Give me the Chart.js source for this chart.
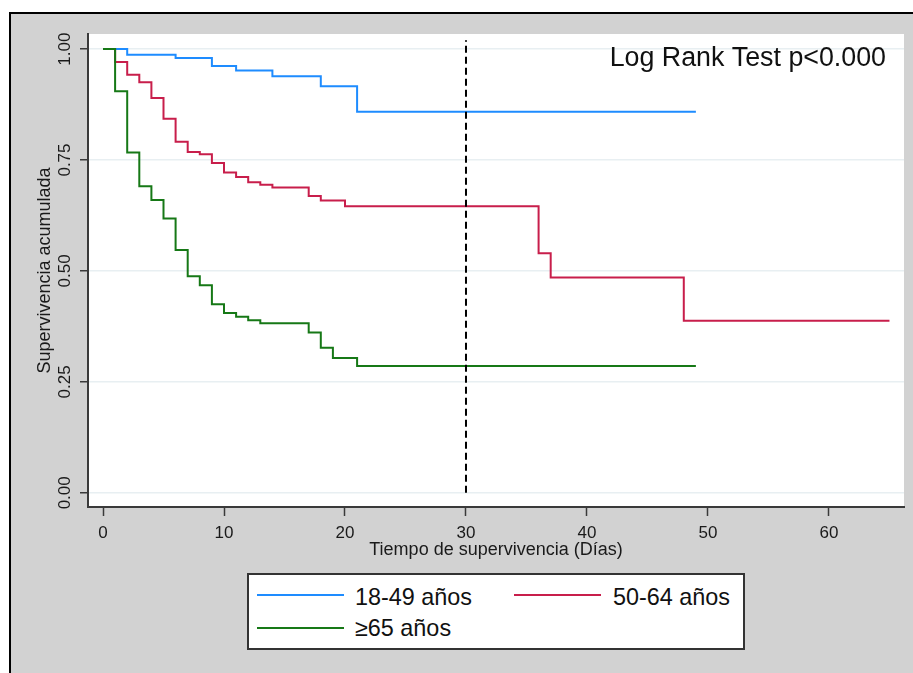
<!DOCTYPE html>
<html><head><meta charset="utf-8">
<script src="https://cdn.jsdelivr.net/npm/chart.js@4.4.1/dist/chart.umd.min.js"></script>
<style>
html,body{margin:0;padding:0;background:#fff;}
#wrap{position:relative;width:913px;height:673px;overflow:hidden;}
#c{position:absolute;left:0;top:0;}
#leyenda{position:absolute;left:247px;top:573px;width:494px;height:73px;border:2px solid #333;background:#fff;font-family:"Liberation Sans",Arial,sans-serif;font-size:23.4px;color:#111;}
.item-line{position:absolute;height:2px;width:87px;}
.item-text{position:absolute;line-height:23px;white-space:nowrap;}
</style></head>
<body><div id="wrap"><canvas id="c" width="913" height="673"></canvas><div id="leyenda"></div></div>
<script>
// ---- data ----
const series = ['18-49 años', '50-64 años', '≥65 años'];
const colores = ['#1e8cff', '#c81e4b', '#167816'];

const tiempo1849 = [0, 2, 6, 9, 11, 14, 18, 21, 49];
const superv1849 = [1, 0.987, 0.980, 0.962, 0.952, 0.939, 0.916, 0.859, 0.859];

const tiempo5064 = [0, 1, 2, 3, 4, 5, 6, 7, 8, 9, 10, 11, 12, 13, 14, 17, 18, 20, 36, 37, 48, 65];
const superv5064 = [1, 0.971, 0.942, 0.925, 0.890, 0.843, 0.791, 0.768, 0.763, 0.743, 0.722, 0.712, 0.700, 0.694, 0.688, 0.669, 0.659, 0.646, 0.540, 0.485, 0.388, 0.388];

const tiempo65 = [0, 1, 2, 3, 4, 5, 6, 7, 8, 9, 10, 11, 12, 13, 17, 18, 19, 21, 49];
const superv65 = [1, 0.905, 0.767, 0.691, 0.660, 0.618, 0.547, 0.488, 0.468, 0.425, 0.405, 0.397, 0.389, 0.382, 0.361, 0.327, 0.304, 0.286, 0.286];

const xTicks = [0, 10, 20, 30, 40, 50, 60];
const yTicks = [0, 0.25, 0.5, 0.75, 1];
const diaCorte = 30;
const corteRango = [0, 1.02];
const anotacion = 'Log Rank Test p<0.000';
const tituloX = 'Tiempo de supervivencia (Días)';
const tituloY = 'Supervivencia acumulada';

// ---- chart ----
const FONT = '"Liberation Sans", Arial, sans-serif';
const pts = (t, s) => t.map((x, i) => ({x: x, y: s[i]}));
const tiempos = [tiempo1849, tiempo5064, tiempo65];
const supervs = [superv1849, superv5064, superv65];
const ordenes = [3, 2, 1];

const datasets = series.map((name, i) => ({
  label: name,
  data: pts(tiempos[i], supervs[i]),
  borderColor: colores[i],
  borderWidth: 2,
  stepped: 'before',
  pointRadius: 0,
  fill: false,
  order: ordenes[i]
}));
datasets.push({
  label: 'corte',
  data: corteRango.map(y => ({x: diaCorte, y: y})),
  borderColor: '#000',
  borderWidth: 2,
  borderDash: [7, 4],
  pointRadius: 0,
  fill: false,
  order: 0
});

const plugFondo = {
  id: 'fondo',
  beforeDraw(chart) {
    const {ctx, chartArea: a, width, height} = chart;
    ctx.save();
    ctx.fillStyle = '#fff'; ctx.fillRect(0, 0, width, height);
    ctx.fillStyle = '#d2d2d2'; ctx.fillRect(9, 12, width - 9, height - 12);
    ctx.fillStyle = '#000'; ctx.fillRect(9, 12, width - 9, 2); ctx.fillRect(9, 12, 2, height - 12);
    ctx.fillStyle = '#fff'; ctx.fillRect(a.left, a.top, a.right - a.left, a.bottom - a.top);
    ctx.restore();
  },
  afterDraw(chart) {
    const {ctx, chartArea: a} = chart;
    ctx.save();
    ctx.font = '26.8px ' + FONT;
    ctx.fillStyle = '#111';
    ctx.textAlign = 'right';
    ctx.textBaseline = 'alphabetic';
    ctx.fillText(anotacion, a.right - 18, a.top + 32);
    ctx.restore();
  }
};

new Chart(document.getElementById('c'), {
  type: 'line',
  data: {datasets: datasets},
  plugins: [plugFondo],
  options: {
    responsive: false,
    devicePixelRatio: 1,
    animation: false,
    layout: {padding: {top: 34, right: 9, left: 0, bottom: 111}},
    plugins: {legend: {display: false}, tooltip: {enabled: false}},
    scales: {
      x: {
        type: 'linear', min: -1.24, max: 66.2,
        afterBuildTicks: s => { s.ticks = xTicks.map(v => ({value: v})); },
        afterFit: s => { s.height = 55; },
        grid: {drawOnChartArea: false, drawTicks: true, tickLength: 9, tickColor: '#3a3a3a', tickWidth: 1.5},
        border: {display: true, color: '#3a3a3a', width: 2},
        ticks: {font: {family: FONT, size: 17}, color: '#1a1a1a', padding: 7, maxRotation: 0, autoSkip: false},
        title: {display: true, text: tituloX, font: {family: FONT, size: 18}, color: '#1a1a1a', padding: {top: 0, bottom: 1}}
      },
      y: {
        type: 'linear', min: -0.032, max: 1.034,
        afterBuildTicks: s => { s.ticks = yTicks.map(v => ({value: v})); },
        afterFit: s => { s.width = 88; },
        grid: {color: '#e8eff2', lineWidth: 1.5, drawTicks: true, tickLength: 8, tickColor: '#3a3a3a', tickWidth: 1.5},
        border: {display: true, color: '#3a3a3a', width: 2},
        ticks: {font: {family: FONT, size: 17}, color: '#1a1a1a', padding: -2.3, minRotation: 90, maxRotation: 90, crossAlign: 'center', autoSkip: false,
                callback: v => Number(v).toFixed(2)},
        title: {display: true, text: tituloY, font: {family: FONT, size: 18}, color: '#1a1a1a', padding: {top: 34, bottom: 0}}
      }
    }
  }
});

// ---- legend (HTML) ----
const ley = document.getElementById('leyenda');
const colLine = [8, 265], colText = [106, 364], rowLine = [19.3, 52.3], rowText = [10.5, 42.2];
series.forEach((name, i) => {
  const c = i % 2, r = Math.floor(i / 2);
  const ln = document.createElement('div');
  ln.className = 'item-line';
  ln.style.left = colLine[c] + 'px'; ln.style.top = rowLine[r] + 'px';
  ln.style.background = colores[i];
  ley.appendChild(ln);
  const tx = document.createElement('div');
  tx.className = 'item-text';
  tx.style.left = colText[c] + 'px'; tx.style.top = rowText[r] + 'px';
  tx.textContent = name;
  ley.appendChild(tx);
});
</script></body></html>
